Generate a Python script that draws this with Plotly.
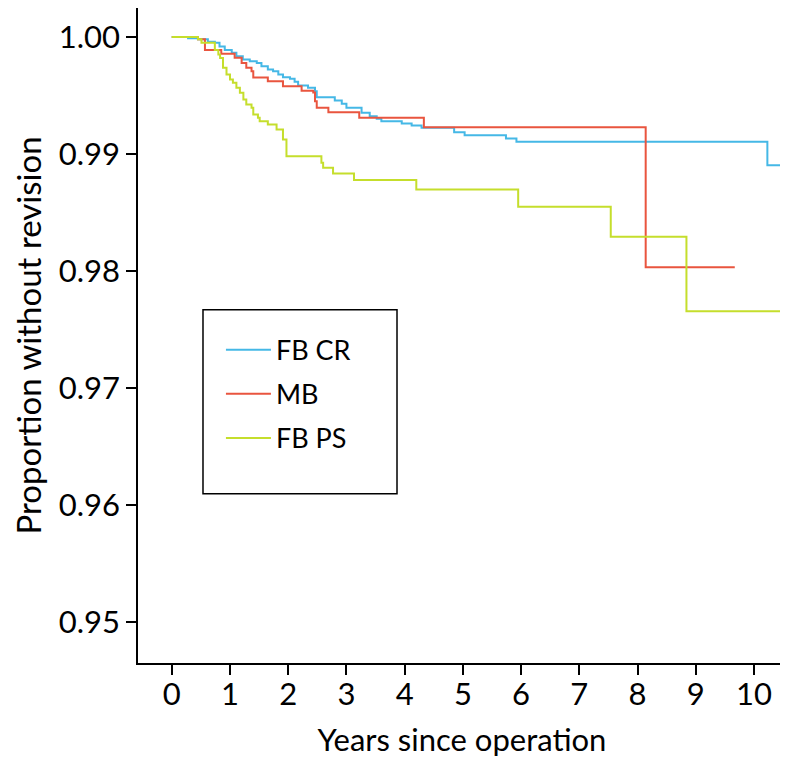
import plotly.graph_objects as go

# FB CR (blue)
fbcr_t = [0, 0.28, 0.45, 0.62, 0.74, 0.82, 0.91, 1.03, 1.11, 1.22, 1.34, 1.46, 1.54, 1.65, 1.74,
          1.83, 1.91, 2.03, 2.11, 2.17, 2.34, 2.46, 2.49, 2.80, 2.92, 3.00, 3.26, 3.40, 3.52, 3.60,
          3.95, 4.12, 4.29, 4.85, 5.03, 5.74, 5.92, 10.23, 10.55]
fbcr_s = [1.0, 0.9999, 0.9998, 0.9996, 0.9995, 0.9992, 0.9989, 0.99865, 0.99836, 0.99808, 0.99793,
          0.99779, 0.9975, 0.99722, 0.99708, 0.9968, 0.99656, 0.99643, 0.99617, 0.99585, 0.99566,
          0.99537, 0.99485, 0.99457, 0.99429, 0.99395, 0.99352, 0.99323, 0.99301, 0.99281, 0.99261,
          0.99244, 0.99224, 0.99186, 0.9916, 0.99132, 0.99104, 0.98904, 0.98904]

# MB (red)
mb_t = [0, 0.45, 0.57, 0.85, 1.08, 1.20, 1.28, 1.37, 1.40, 1.65, 1.91, 2.23, 2.43, 2.46, 2.49,
        2.69, 3.22, 4.33, 8.14, 9.67]
mb_s = [1.0, 0.9998, 0.9989, 0.99856, 0.99822, 0.99779, 0.99737, 0.99708, 0.99655, 0.99622, 0.9958,
        0.9954, 0.99525, 0.9945, 0.99395, 0.99358, 0.99309, 0.99229, 0.98032, 0.98032]

# FB PS (green)
fbps_t = [0, 0.45, 0.51, 0.74, 0.80, 0.83, 0.88, 0.94, 1.0, 1.05, 1.11, 1.17, 1.23, 1.28, 1.37,
          1.40, 1.48, 1.51, 1.65, 1.80, 1.91, 1.97, 2.57, 2.60, 2.77, 3.13, 4.20, 5.95, 7.54, 8.84,
          10.55]
fbps_s = [1.0, 0.9998, 0.9995, 0.9989, 0.9985, 0.9982, 0.99737, 0.9968, 0.99637, 0.99609, 0.99566,
          0.99523, 0.99466, 0.99423, 0.99395, 0.99338, 0.99309, 0.99281, 0.99252, 0.99209, 0.99124,
          0.9898, 0.98925, 0.98882, 0.98833, 0.98778, 0.98697, 0.98549, 0.98292, 0.97657, 0.97657]

x_ticks = list(range(0, 11))
y_ticks = [0.95, 0.96, 0.97, 0.98, 0.99, 1.00]
y_tick_text = ["0.95", "0.96", "0.97", "0.98", "0.99", "1.00"]

series = [
    ("FB CR", fbcr_t, fbcr_s, "#45B8E6"),
    ("MB", mb_t, mb_s, "#E9553F"),
    ("FB PS", fbps_t, fbps_s, "#C5DE2C"),
]

fig = go.Figure()
for i, (name, t, s, c) in enumerate(series):
    fig.add_trace(go.Scatter(
        x=t, y=s, mode="lines", name=name, legendgroup=str(i),
        line=dict(color=c, width=2, shape="hv"),
    ))

FONT = "Lato"
fig.update_layout(
    width=780, height=768,
    margin=dict(l=130, r=2, t=0, b=113, autoexpand=False),
    paper_bgcolor="white", plot_bgcolor="white",
    font=dict(family=FONT, size=22, color="black"),
    showlegend=True,
    legend=dict(
        x=0.128, y=0.515, xanchor="left", yanchor="top",
        bgcolor="rgba(0,0,0,0)", borderwidth=0,
        font=dict(family=FONT, size=27, color="black"),
        tracegroupgap=6, traceorder="grouped",
        itemwidth=45,
    ),
    xaxis=dict(
        range=[-0.58, 10.55], tickvals=x_ticks, showgrid=False, zeroline=False,
        showline=True, linecolor="black", linewidth=1.5,
        ticks="outside", ticklen=10, tickwidth=1.5, tickcolor="black",
        tickfont=dict(family=FONT, size=31), ticklabelstandoff=-7,
        automargin=True,
        title=dict(text="Years since operation", font=dict(family=FONT, size=31), standoff=18),
    ),
    yaxis=dict(
        range=[0.9465, 1.00248], tickvals=y_ticks, ticktext=y_tick_text,
        showgrid=False, zeroline=False,
        showline=True, linecolor="black", linewidth=1.5,
        ticks="outside", ticklen=10, tickwidth=1.5, tickcolor="black",
        tickfont=dict(family=FONT, size=31),
        automargin=True,
        title=dict(text="Proportion without revision", font=dict(family=FONT, size=33), standoff=34),
    ),
    shapes=[dict(
        type="rect", xref="paper", yref="paper",
        x0=0.1003, x1=0.3997, y0=0.2584, y1=0.5395,
        line=dict(color="black", width=1.5), fillcolor="rgba(0,0,0,0)", layer="above",
    )],
)

fig.write_html("out.html")
